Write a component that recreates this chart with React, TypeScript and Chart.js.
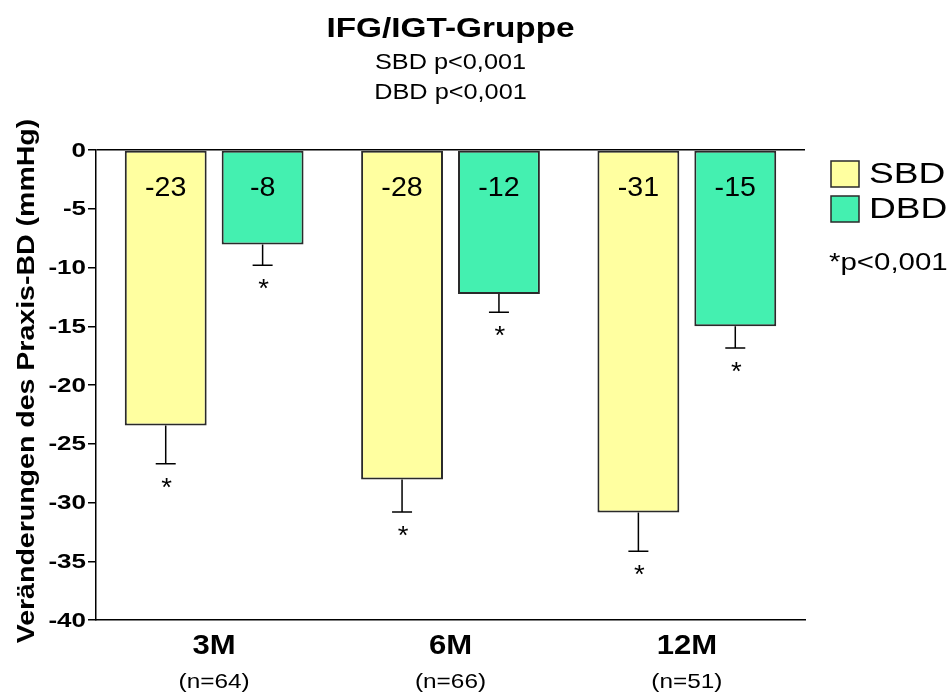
import React, { useEffect, useRef } from "react";
import { Chart, registerables } from "chart.js";

Chart.register(...registerables);

const categories = ["3M", "6M", "12M"];
const nLabels = ["(n=64)", "(n=66)", "(n=51)"];
const sbdValues = [-23.45, -28.05, -30.85];
const dbdValues = [-8.05, -12.25, -15.0];
const sbdErrors = [3.25, 2.75, 3.3];
const dbdErrors = [1.75, 1.55, 1.85];
const sbdLabels = ["-23", "-28", "-31"];
const dbdLabels = ["-8", "-12", "-15"];
const yTicks = [0, -5, -10, -15, -20, -25, -30, -35, -40];
const seriesNames = ["SBD", "DBD"];
const titleLines = ["IFG/IGT-Gruppe", "SBD p<0,001", "DBD p<0,001"];
const yTitle = "Veränderungen des Praxis-BD (mmHg)";
const sigNote = "*p<0,001";

const FONT = '"Liberation Sans", Arial, sans-serif';
const YELLOW = "#FFFFA0";
const GREEN = "#44F0B0";
const EDGE = "#2a2a2a";

const errors = [sbdErrors, dbdErrors];
const valueLabels = [sbdLabels, dbdLabels];

function drawText(
  ctx: CanvasRenderingContext2D,
  text: string,
  x: number,
  y: number,
  font: string,
  sx: number,
  align: CanvasTextAlign,
  baseline: CanvasTextBaseline = "alphabetic",
  rotate = 0
) {
  ctx.save();
  ctx.font = font;
  ctx.textAlign = align;
  ctx.textBaseline = baseline;
  ctx.fillStyle = "#000";
  ctx.translate(x, y);
  if (rotate) ctx.rotate(rotate);
  ctx.scale(sx, 1);
  ctx.fillText(text, 0, 0);
  ctx.restore();
}

const overlayPlugin = {
  id: "overlay",
  afterDatasetsDraw(chart: any) {
    const ctx = chart.ctx as CanvasRenderingContext2D;
    const area = chart.chartArea;
    const xScale = chart.scales.x;
    const yScale = chart.scales.y;
    ctx.save();

    // error bars, value labels, asterisks
    chart.data.datasets.forEach((ds: any, di: number) => {
      const meta = chart.getDatasetMeta(di);
      meta.data.forEach((bar: any, i: number) => {
        const v = ds.data[i];
        const errEnd = v - errors[di][i];
        const yBar = yScale.getPixelForValue(v);
        const yErr = yScale.getPixelForValue(errEnd);
        const x = bar.x;
        ctx.strokeStyle = "#000";
        ctx.lineWidth = 1.5;
        ctx.beginPath();
        ctx.moveTo(x, yBar);
        ctx.lineTo(x, yErr);
        ctx.moveTo(x - 10, yErr);
        ctx.lineTo(x + 10, yErr);
        ctx.stroke();

        drawText(ctx, "*", x + 1, yErr + 32, `25px ${FONT}`, 1.1, "center");
        drawText(ctx, valueLabels[di][i], x, yScale.getPixelForValue(0) + 46, `27px ${FONT}`, 1.06, "center");
      });
    });

    // y tick labels
    yTicks.forEach((t) => {
      drawText(ctx, String(t), 86, yScale.getPixelForValue(t) + 1, `bold 20px ${FONT}`, 1.3, "right", "middle");
    });

    // y title
    drawText(ctx, yTitle, 28, (area.top + area.bottom) / 2 - 4, `bold 23px ${FONT}`, 1.24, "center", "middle", -Math.PI / 2);

    // x category labels
    categories.forEach((c, i) => {
      const x = xScale.getPixelForValue(i);
      drawText(ctx, c, x, 654, `bold 27px ${FONT}`, 1.15, "center");
      drawText(ctx, nLabels[i], x, 688, `21px ${FONT}`, 1.16, "center");
    });

    // title
    const cx = (area.left + area.right) / 2;
    drawText(ctx, titleLines[0], cx, 37, `bold 28px ${FONT}`, 1.19, "center");
    drawText(ctx, titleLines[1], cx, 69, `22px ${FONT}`, 1.15, "center");
    drawText(ctx, titleLines[2], cx, 99, `22px ${FONT}`, 1.15, "center");

    // legend
    const colors = [YELLOW, GREEN];
    const boxY = [161, 196];
    seriesNames.forEach((name, i) => {
      ctx.fillStyle = colors[i];
      ctx.fillRect(831, boxY[i], 28, 26);
      ctx.strokeStyle = EDGE;
      ctx.lineWidth = 1.5;
      ctx.strokeRect(831, boxY[i], 28, 26);
      drawText(ctx, name, 869, boxY[i] + 14, `29px ${FONT}`, 1.28, "left", "middle");
    });
    drawText(ctx, sigNote, 829, 264, `23px ${FONT}`, 1.28, "left", "middle");

    ctx.restore();
  },
};

export default function App() {
  const ref = useRef<HTMLCanvasElement | null>(null);

  useEffect(() => {
    if (!ref.current) return;
    const chart = new Chart(ref.current, {
      type: "bar",
      data: {
        labels: categories,
        datasets: [
          {
            label: seriesNames[0],
            data: sbdValues,
            backgroundColor: YELLOW,
            borderColor: EDGE,
            borderWidth: 2,
            borderSkipped: false,
          },
          {
            label: seriesNames[1],
            data: dbdValues,
            backgroundColor: GREEN,
            borderColor: EDGE,
            borderWidth: 2,
            borderSkipped: false,
          },
        ],
      },
      options: {
        responsive: true,
        maintainAspectRatio: false,
        animation: false,
        devicePixelRatio: 1,
        layout: { padding: { top: 150, right: 143, bottom: 0, left: 0 } },
        datasets: {
          bar: { categoryPercentage: 0.82, barPercentage: 0.845 },
        },
        plugins: {
          legend: { display: false },
          title: { display: false },
          tooltip: { enabled: false },
        },
        scales: {
          x: {
            grid: { display: false },
            ticks: { display: false },
            border: { display: true, color: "#000", width: 1.5 },
            afterFit: (scale: any) => {
              scale.height = 73;
            },
          },
          y: {
            min: -40,
            max: 0,
            afterBuildTicks: (scale: any) => {
              scale.ticks = yTicks.map((v) => ({ value: v }));
            },
            ticks: { display: false },
            grid: {
              drawOnChartArea: true,
              drawTicks: true,
              color: (c: any) => (c.tick && c.tick.value === 0 ? "#000" : "rgba(0,0,0,0)"),
              tickColor: "#000",
              lineWidth: 1.5,
              tickLength: 8,
            },
            border: { display: true, color: "#000", width: 1.5 },
            afterFit: (scale: any) => {
              scale.width = 96;
            },
          },
        },
      },
      plugins: [overlayPlugin],
    });
    return () => chart.destroy();
  }, []);

  return (
    <div style={{ position: "absolute", left: 0, top: 0, width: 948, height: 693, background: "#fff" }}>
      <canvas ref={ref} style={{ display: "block" }} />
    </div>
  );
}
